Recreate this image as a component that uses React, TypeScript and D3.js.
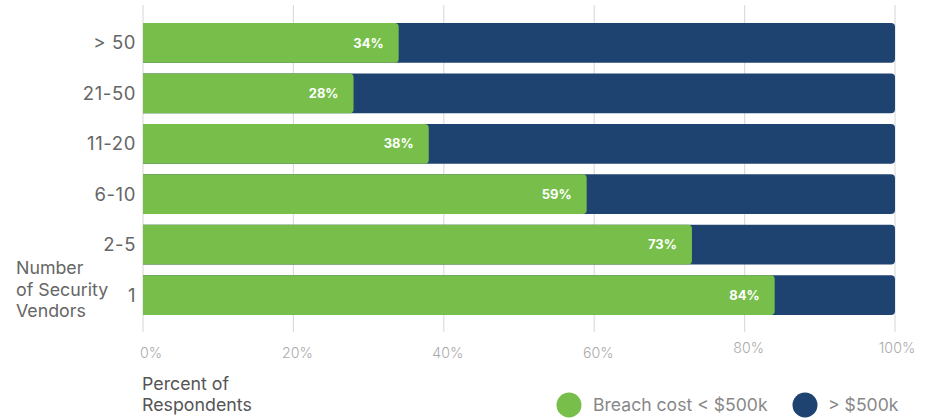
import React from 'react';
import * as d3 from 'd3';

const categories = ['> 50', '21-50', '11-20', '6-10', '2-5', '1'];
const lowCost = [34, 28, 38, 59, 73, 84];
const tickValues = [0, 20, 40, 60, 80, 100];
const seriesNames = ['Breach cost < $500k', '> $500k'];

const GREEN = '#77bf4a';
const NAVY = '#1e4370';
const FONT = 'Inter, "Open Sans", sans-serif';

// path for a rect with only the right corners rounded
const rightRounded = (x0: number, y: number, x1: number, h: number, r: number) =>
  `M${x0},${y}H${x1 - r}Q${x1},${y} ${x1},${y + r}V${y + h - r}Q${x1},${y + h} ${x1 - r},${y + h}H${x0}Z`;

function App() {
  const width = 930;
  const height = 418;

  const x = d3.scaleLinear().domain([0, 100]).range([143, 895]);
  const y = d3
    .scaleBand()
    .domain(categories)
    .range([18, 320])
    .paddingInner(0.21)
    .paddingOuter(0.1);

  const bh = y.bandwidth();

  return (
    <svg
      width={width}
      height={height}
      style={{ position: 'absolute', left: 0, top: 0, fontFamily: FONT }}
    >
      <g className="grid">
        {tickValues.map((t) => (
          <line key={t} x1={x(t)} x2={x(t)} y1={5} y2={332} stroke="#dcdcdc" strokeWidth={1.2} />
        ))}
      </g>
      <g className="bars">
        {categories.map((c, i) => {
          const y0 = y(c) as number;
          return (
            <g key={c}>
              <path d={rightRounded(x(0), y0, x(100), bh, 4)} fill={NAVY} />
              <path d={rightRounded(x(0), y0, x(lowCost[i]), bh, 4)} fill={GREEN} />
              <text
                x={x(lowCost[i]) - 15}
                y={y0 + bh / 2}
                dy="0.35em"
                textAnchor="end"
                fill="#fff"
                fontWeight={700}
                fontSize={13}
              >
                {lowCost[i]}%
              </text>
            </g>
          );
        })}
      </g>
      <g className="yAxis">
        {categories.map((c) => (
          <text
            key={c}
            x={136}
            y={(y(c) as number) + bh / 2}
            dy="0.35em"
            textAnchor="end"
            fill="#666"
            fontSize={18.5}
            letterSpacing={0.6}
          >
            {c}
          </text>
        ))}
        <text fill="#666" fontSize={17.8}>
          <tspan x={16} y={274}>Number</tspan>
          <tspan x={16} y={296}>of Security</tspan>
          <tspan x={16} y={317}>Vendors</tspan>
        </text>
      </g>
      <g className="xAxis">
        {tickValues.map((t, i) => (
          <text
            key={t}
            x={x(t) + (i === 0 ? 8 : i === tickValues.length - 1 ? 2 : 4)}
            y={i >= 4 ? 353 : 358}
            textAnchor="middle"
            fill="#aaa"
            fontWeight={300}
            fontSize={14.2}
          >
            {t}%
          </text>
        ))}
        <text fill="#555" fontSize={17.8}>
          <tspan x={142} y={390}>Percent of</tspan>
          <tspan x={142} y={411}>Respondents</tspan>
        </text>
      </g>
      <g className="legend" fontSize={17.6} fill="#888">
        <circle cx={569} cy={405} r={12.5} fill={GREEN} />
        <text x={593} y={411}>{seriesNames[0]}</text>
        <circle cx={805} cy={405} r={12.5} fill={NAVY} />
        <text x={828} y={411}>{seriesNames[1]}</text>
      </g>
    </svg>
  );
}

export default App;
